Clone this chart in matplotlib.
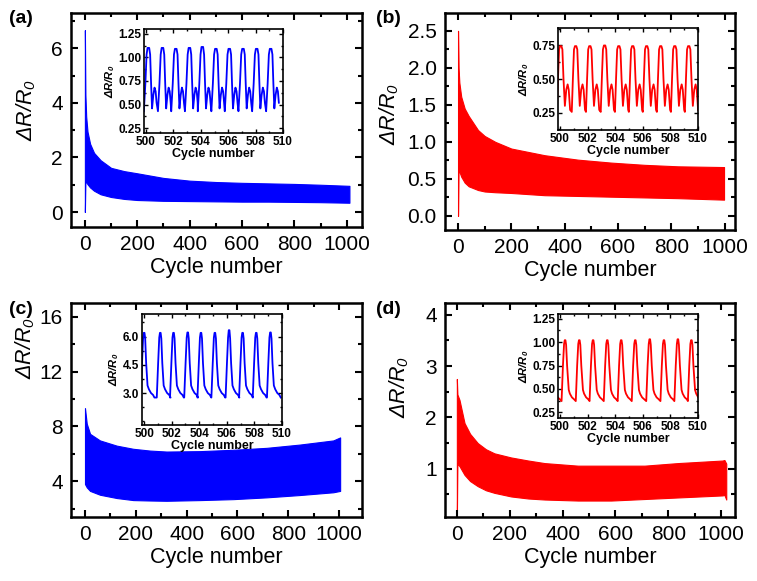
"""Four-panel cycling response: dR/R0 over 1000 cycles with 500-510 insets."""

import matplotlib.pyplot as plt
import numpy as np
from matplotlib.ticker import FixedLocator, MultipleLocator

plt.rcParams["font.family"] = ["Liberation Sans", "DejaVu Sans"]
plt.rcParams["mathtext.fontset"] = "custom"
plt.rcParams["mathtext.rm"] = "Liberation Sans:italic"
plt.rcParams["mathtext.it"] = "Liberation Sans:italic"
plt.rcParams["mathtext.bf"] = "Liberation Sans:italic:bold"

BLUE = "#0000ff"
RED = "#ff0000"

# --- main panels: envelope of the dense oscillation band (cycle, upper, lower)
cyc_a = [0, 2, 5, 10, 20, 35, 60, 100, 150, 200, 300, 400, 500, 600, 700, 800, 900, 1010]
up_a = [6.67, 4.3, 3.5, 2.95, 2.5, 2.17, 1.9, 1.62, 1.5, 1.42, 1.25, 1.15, 1.1, 1.07, 1.05, 1.03, 1.0, 0.96]
lo_a = [0.0, 1.15, 1.1, 1.02, 0.9, 0.78, 0.65, 0.55, 0.48, 0.44, 0.41, 0.40, 0.39, 0.38, 0.38, 0.37, 0.36, 0.34]

cyc_b = [0, 2, 5, 12, 25, 40, 75, 100, 140, 200, 325, 450, 575, 700, 825, 998]
up_b = [2.5, 2.0, 1.8, 1.61, 1.45, 1.35, 1.16, 1.08, 1.0, 0.91, 0.82, 0.76, 0.72, 0.69, 0.67, 0.66]
lo_b = [0.0, 0.68, 0.6, 0.53, 0.45, 0.4, 0.35, 0.33, 0.32, 0.31, 0.28, 0.27, 0.26, 0.25, 0.24, 0.22]

cyc_c = [0, 7, 20, 59, 125, 190, 256, 321, 453, 584, 715, 846, 977, 1004]
up_c = [9.34, 8.2, 7.46, 6.98, 6.6, 6.37, 6.24, 6.17, 6.2, 6.3, 6.44, 6.68, 6.98, 7.2]
lo_c = [3.8, 3.56, 3.3, 3.02, 2.78, 2.63, 2.6, 2.58, 2.63, 2.7, 2.83, 3.0, 3.2, 3.3]

cyc_d = [0, 2, 10, 29, 50, 79, 110, 142, 205, 270, 332, 458, 584, 710, 836, 1005, 1012, 1019]
up_d = [2.75, 2.45, 2.34, 1.89, 1.68, 1.5, 1.38, 1.3, 1.22, 1.16, 1.11, 1.06, 1.06, 1.06, 1.11, 1.16, 1.17, 1.1]
lo_d = [0.0, 1.1, 1.05, 0.88, 0.76, 0.66, 0.58, 0.53, 0.46, 0.42, 0.40, 0.38, 0.38, 0.41, 0.44, 0.48, 0.49, 0.40]

# --- insets: big-peak positions / heights per cycle, plus one-cycle shape
peak_at_a = [500.17, 501.2, 502.17, 503.17, 504.11, 505.1, 506.08, 507.08, 508.08, 509.1]
top_a = [1.10, 1.10, 1.09, 1.10, 1.11, 1.09, 1.09, 1.09, 1.09, 1.09]
shape_off_a = [-0.33, -0.22, -0.13, -0.06, 0.06, 0.13, 0.2, 0.27, 0.36, 0.45, 0.53, 0.6]
shape_val_a = [0.43, 0.72, 1.03, None, None, 1.03, 0.72, 0.46, 0.6, 0.68, 0.64, 0.52]

peak_at_b = [500.05, 501.13, 502.16, 503.23, 504.26, 505.27, 506.28, 507.3, 508.32, 509.33]
top_b = [0.745, 0.745, 0.745, 0.75, 0.745, 0.745, 0.745, 0.745, 0.745, 0.745]
shape_off_b = [-0.28, -0.2, -0.12, -0.05, 0.05, 0.12, 0.2, 0.3, 0.4, 0.5, 0.58, 0.68]
shape_val_b = [0.255, 0.5, 0.72, None, None, 0.72, 0.5, 0.30, 0.42, 0.46, 0.42, 0.27]

peak_at_c = [500.0, 501.17, 502.13, 503.16, 504.12, 505.13, 506.16, 507.14, 508.13, 509.16]
top_c = [6.2, 6.2, 6.2, 6.22, 6.2, 6.2, 6.34, 6.2, 6.2, 6.22]
shape_off_c = [-0.25, -0.15, -0.07, -0.02, 0.03, 0.08, 0.15, 0.25, 0.35, 0.5, 0.65, 0.75]
shape_val_c = [2.76, 4.6, 5.95, None, None, 5.9, 4.6, 3.4, 3.2, 3.0, 2.9, 2.76]

peak_at_d = [499.33, 500.36, 501.39, 502.39, 503.42, 504.43, 505.45, 506.5, 507.53, 508.54, 509.52]
top_d = [1.02, 1.02, 1.02, 1.02, 1.02, 1.02, 1.02, 1.03, 1.02, 1.03, 1.02]
shape_off_d = [-0.25, -0.15, -0.07, -0.02, 0.03, 0.08, 0.15, 0.27, 0.35, 0.5, 0.65]
shape_val_d = [0.37, 0.75, 0.98, None, None, 0.97, 0.75, 0.49, 0.45, 0.41, 0.39]


def cycle_trace(peaks, tops, offs, vals):
    xs, ys = [], []
    for c, h in zip(peaks, tops):
        for o, v in zip(offs, vals):
            xs.append(c + o)
            ys.append(h if v is None else v)
    return np.array(xs), np.array(ys)


def style_main(ax, xlim, ylim, ymaj, ymin, ylab_xy):
    ax.set_xlim(*xlim)
    ax.set_ylim(*ylim)
    ax.xaxis.set_major_locator(MultipleLocator(200))
    ax.xaxis.set_minor_locator(MultipleLocator(100))
    ax.yaxis.set_major_locator(MultipleLocator(ymaj))
    ax.yaxis.set_minor_locator(MultipleLocator(ymin))
    ax.tick_params(which="both", direction="in", top=True, right=True,
                   width=1.5, labelsize=15, pad=6)
    ax.tick_params(which="major", length=5)
    ax.tick_params(which="minor", length=3)
    for s in ax.spines.values():
        s.set_linewidth(1.8)
    ax.set_xlabel("Cycle number", fontsize=15.5, labelpad=2)
    ax.set_ylabel(r"$\Delta R/R_0$", fontsize=15.5)
    ax.yaxis.set_label_coords(*ylab_xy)


def style_inset(ax, ylim, yticks, ymin, fmt):
    ax.set_xlim(499.85, 510)
    ax.set_ylim(*ylim)
    ax.xaxis.set_major_locator(MultipleLocator(2))
    ax.xaxis.set_minor_locator(MultipleLocator(1))
    ax.yaxis.set_major_locator(FixedLocator(yticks))
    ax.yaxis.set_minor_locator(MultipleLocator(ymin))
    ax.yaxis.set_major_formatter(plt.FormatStrFormatter(fmt))
    ax.tick_params(which="both", direction="in", top=True, right=True,
                   width=1.0, labelsize=8.5, pad=2)
    ax.tick_params(which="major", length=3)
    ax.tick_params(which="minor", length=1.5)
    for lab in ax.get_xticklabels() + ax.get_yticklabels():
        lab.set_fontweight("bold")
    for s in ax.spines.values():
        s.set_linewidth(1.2)
    ax.set_xlabel("Cycle number", fontsize=9, fontweight="bold", labelpad=0)
    ax.set_ylabel(r"$\mathbf{\Delta R/R_0}$", fontsize=8, labelpad=1)


fig = plt.figure(figsize=(7.57, 5.81), dpi=100)

panels = [
    dict(rect=[0.0938, 0.6093, 0.3844, 0.3683], ins=[0.1902, 0.7711, 0.1836, 0.179],
         cyc=cyc_a, up=up_a, lo=lo_a, color=BLUE, xlim=(-53, 1058), ylim=(-0.55, 7.3),
         ymaj=2, ymin=1, ylab=(-0.113, 0.547),
         peaks=peak_at_a, tops=top_a, offs=shape_off_a, vals=shape_val_a,
         iylim=(0.2, 1.3), iyt=[0.25, 0.5, 0.75, 1.0, 1.25], iymin=0.125, fmt="%.2f",
         label="(a)", lx=0.012, ly=0.968),
    dict(rect=[0.5878, 0.6041, 0.3831, 0.3735], ins=[0.7371, 0.7762, 0.1849, 0.1756],
         cyc=cyc_b, up=up_b, lo=lo_b, color=RED, xlim=(-49, 1039), ylim=(-0.19, 2.74),
         ymaj=0.5, ymin=0.25, ylab=(-0.152, 0.535),
         peaks=peak_at_b, tops=top_b, offs=shape_off_b, vals=shape_val_b,
         iylim=(0.12, 0.88), iyt=[0.25, 0.5, 0.75], iymin=0.125, fmt="%.2f",
         label="(b)", lx=0.497, ly=0.968),
    dict(rect=[0.0938, 0.1102, 0.3844, 0.3683], ins=[0.1876, 0.2685, 0.1849, 0.191],
         cyc=cyc_c, up=up_c, lo=lo_c, color=BLUE, xlim=(-55, 1090), ylim=(1.4, 17.0),
         ymaj=4, ymin=2, ylab=(-0.117, 0.79),
         peaks=peak_at_c, tops=top_c, offs=shape_off_c, vals=shape_val_c,
         iylim=(1.3, 7.2), iyt=[3.0, 4.5, 6.0], iymin=0.75, fmt="%.1f",
         label="(c)", lx=0.012, ly=0.468),
    dict(rect=[0.5878, 0.1102, 0.3831, 0.3683], ins=[0.7371, 0.2806, 0.1849, 0.179],
         cyc=cyc_d, up=up_d, lo=lo_d, color=RED, xlim=(-45, 1052), ylim=(0.06, 4.23),
         ymaj=1, ymin=0.5, ylab=(-0.117, 0.607),
         peaks=peak_at_d, tops=top_d, offs=shape_off_d, vals=shape_val_d,
         iylim=(0.19, 1.3), iyt=[0.25, 0.5, 0.75, 1.0, 1.25], iymin=0.125, fmt="%.2f",
         label="(d)", lx=0.497, ly=0.468),
]

for p in panels:
    ax = fig.add_axes(p["rect"])
    ax.fill_between(p["cyc"], p["lo"], p["up"], color=p["color"], lw=0.8,
                    edgecolor=p["color"])
    style_main(ax, p["xlim"], p["ylim"], p["ymaj"], p["ymin"], p["ylab"])
    fig.text(p["lx"], p["ly"], p["label"], fontsize=14, fontweight="bold",
             va="center", ha="left")

    ins = fig.add_axes(p["ins"])
    x, y = cycle_trace(p["peaks"], p["tops"], p["offs"], p["vals"])
    ins.plot(x, y, color=p["color"], lw=1.3, solid_joinstyle="round")
    style_inset(ins, p["iylim"], p["iyt"], p["iymin"], p["fmt"])

fig.savefig("out.png", dpi=100)
plt.close(fig)
